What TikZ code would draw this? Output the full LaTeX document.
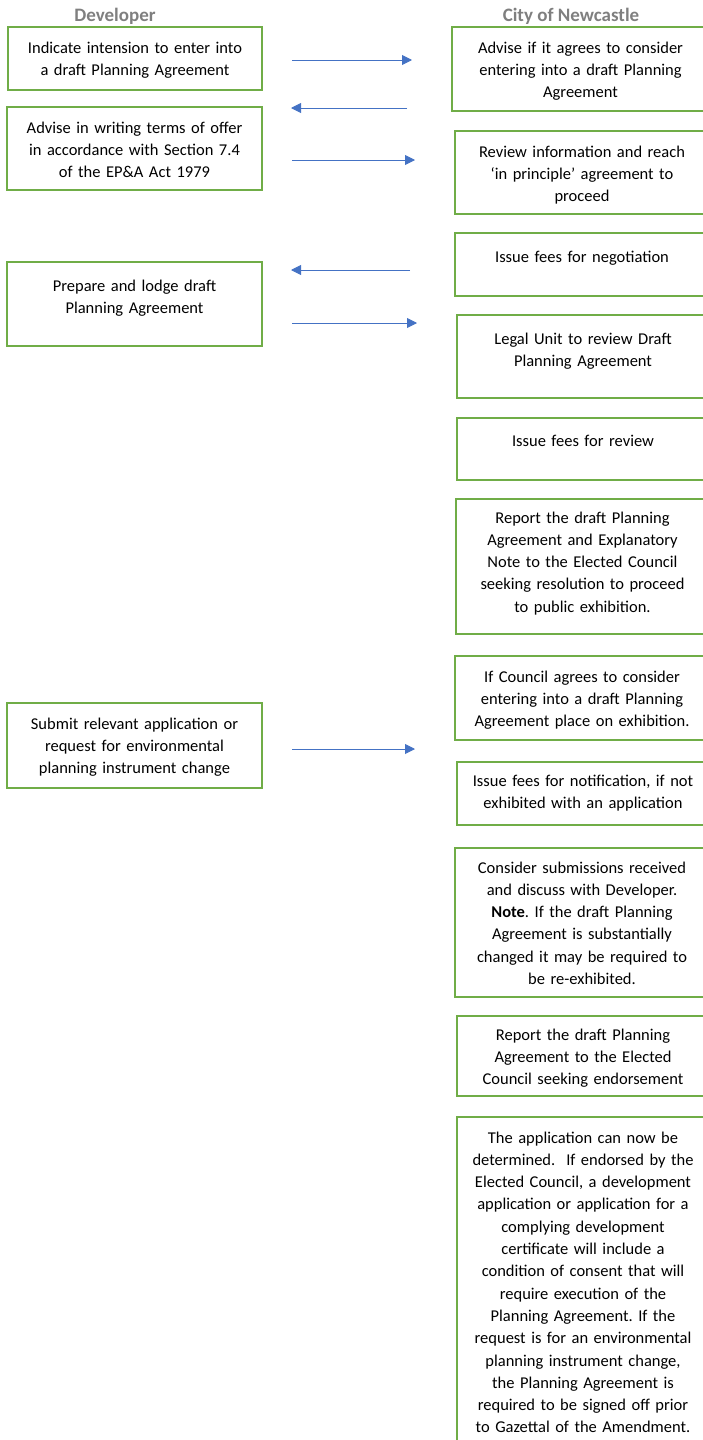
\documentclass[tikz,border=0pt]{standalone}
\usepackage{fontspec}
\setmainfont{Carlito}
\usetikzlibrary{arrows.meta}
\definecolor{boxgreen}{RGB}{112,173,71}
\definecolor{flowblue}{RGB}{68,114,196}
\definecolor{headgray}{RGB}{127,127,127}
\tikzset{
  stepbox/.style={draw=boxgreen,line width=1.6pt,anchor=north west,inner sep=0pt,outer sep=0pt},
  steptext/.style={anchor=base,text width=250pt,align=center,inner sep=0pt,font=\fontsize{16.5}{22.3}\selectfont\frenchspacing},
  head/.style={anchor=base,text=headgray,font=\bfseries\fontsize{19}{22}\selectfont},
  flowr/.style={draw=flowblue,line width=0.9pt,-{Triangle[length=10pt,width=10pt]},shorten <=30pt,shorten >=40pt},
  flowl/.style={draw=flowblue,line width=0.9pt,-{Triangle[length=10pt,width=10pt]},shorten <=45pt,shorten >=29pt}
}
\begin{document}
\begin{tikzpicture}[x=1pt,y=-1pt]
\useasboundingbox (0,0) rectangle (703,1440);
% column headings
\node[head] (devhead) at (115,21.5) {Developer};
\node[head] (couhead) at (571,21.5) {City of Newcastle};
% developer boxes
\node[stepbox,minimum width=254pt,minimum height=63pt] (dev1) at (8,27) {};
\node[steptext] (dev1t) at ([yshift=-26pt]dev1.north) {Indicate intension to enter into\\a draft Planning Agreement};
\node[stepbox,minimum width=255pt,minimum height=83pt] (dev2) at (7,107) {};
\node[steptext] (dev2t) at ([yshift=-26pt]dev2.north) {Advise in writing terms of offer\\in accordance with Section 7.4\\of the EP\&A Act 1979};
\node[stepbox,minimum width=255pt,minimum height=84pt] (dev3) at (7,262) {};
\node[steptext] (dev3t) at ([yshift=-29pt]dev3.north) {Prepare and lodge draft\\Planning Agreement};
\node[stepbox,minimum width=255pt,minimum height=85pt] (dev4) at (7,703) {};
\node[steptext] (dev4t) at ([yshift=-26pt]dev4.north) {Submit relevant application or\\request for environmental\\planning instrument change};
% council boxes
\node[stepbox,minimum width=257pt,minimum height=84pt] (cou1) at (452,27) {};
\node[steptext] (cou1t) at ([yshift=-26pt]cou1.north) {Advise if it agrees to consider\\entering into a draft Planning\\Agreement};
\node[stepbox,minimum width=254pt,minimum height=83pt] (cou2) at (455,131) {};
\node[steptext] (cou2t) at ([yshift=-26pt]cou2.north) {Review information and reach\\‘in principle’ agreement to\\proceed};
\node[stepbox,minimum width=254pt,minimum height=63pt] (cou3) at (455,233) {};
\node[steptext] (cou3t) at ([yshift=-29pt]cou3.north) {Issue fees for negotiation};
\node[stepbox,minimum width=252pt,minimum height=83pt] (cou4) at (457,315) {};
\node[steptext] (cou4t) at ([yshift=-29pt]cou4.north) {Legal Unit to review Draft\\Planning Agreement};
\node[stepbox,minimum width=252pt,minimum height=62pt] (cou5) at (457,418) {};
\node[steptext] (cou5t) at ([yshift=-28pt]cou5.north) {Issue fees for review};
\node[stepbox,minimum width=253pt,minimum height=135pt] (cou6) at (456,499) {};
\node[steptext] (cou6t) at ([yshift=-24pt]cou6.north) {Report the draft Planning\\Agreement and Explanatory\\Note to the Elected Council\\seeking resolution to proceed\\to public exhibition.};
\node[stepbox,minimum width=254pt,minimum height=84pt] (cou7) at (455,656) {};
\node[steptext] (cou7t) at ([yshift=-26pt]cou7.north) {If Council agrees to consider\\entering into a draft Planning\\Agreement place on exhibition.};
\node[stepbox,minimum width=252pt,minimum height=63pt] (cou8) at (457,762) {};
\node[steptext] (cou8t) at ([yshift=-24pt]cou8.north) {Issue fees for notification, if not\\exhibited with an application};
\node[stepbox,minimum width=254pt,minimum height=149pt] (cou9) at (455,848) {};
\node[steptext] (cou9t) at ([yshift=-25pt]cou9.north) {Consider submissions received\\and discuss with Developer.\\\textbf{Note}. If the draft Planning\\Agreement is substantially\\changed it may be required to\\be re-exhibited.};
\node[stepbox,minimum width=252pt,minimum height=80pt] (cou10) at (457,1016) {};
\node[steptext] (cou10t) at ([yshift=-24pt]cou10.north) {Report the draft Planning\\Agreement to the Elected\\Council seeking endorsement};
\node[stepbox,minimum width=252pt,minimum height=340pt] (cou11) at (457,1117) {};
\node[steptext] (cou11t) at ([yshift=-26pt]cou11.north) {The application can now be\\determined.\ \ If endorsed by the\\Elected Council, a development\\application or application for a\\complying development\\certificate will include a\\condition of consent that will\\require execution of the\\Planning Agreement. If the\\request is for an environmental\\planning instrument change,\\the Planning Agreement is\\required to be signed off prior\\to Gazettal of the Amendment.};
% arrows
\draw[flowr] ([yshift=-1.5pt]dev1.east) coordinate (a1) -- (cou1.west |- a1);
\draw[flowl] ([yshift=3pt]cou1.south west) coordinate (a2) -- (dev2.east |- a2);
\draw[flowr] ([yshift=-11.5pt]dev2.east) coordinate (a3) -- (cou2.west |- a3);
\draw[flowl] ([yshift=-5.5pt]cou3.west) coordinate (a4) -- (dev3.east |- a4);
\draw[flowr] ([yshift=-19pt]dev3.east) coordinate (a5) -- (cou4.west |- a5);
\draw[flowr] ([yshift=-3.5pt]dev4.east) coordinate (a6) -- (cou7.west |- a6);
\end{tikzpicture}
\end{document}
